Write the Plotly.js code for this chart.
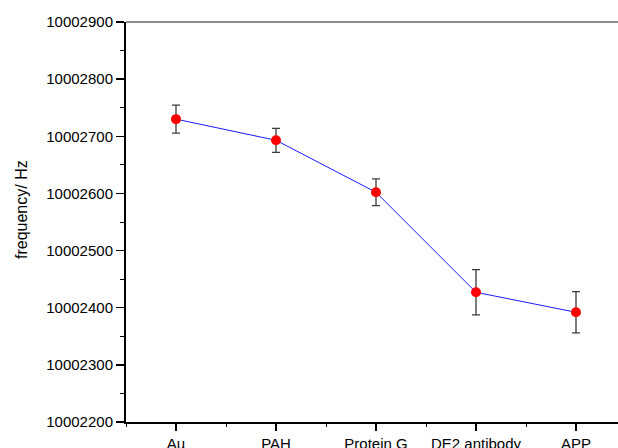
<!DOCTYPE html>
<html>
<head>
<meta charset="utf-8">
<script src="https://cdn.plot.ly/plotly-3.0.1.min.js"></script>
<style>
html,body{margin:0;padding:0;overflow:hidden;background:#fff;}
#chart{width:640px;height:448px;}
</style>
</head>
<body>
<div id="chart"></div>
<script>
const categories = ["Au", "PAH", "Protein G", "DE2 antibody", "APP"];
const frequency = [10002730, 10002693, 10002602, 10002427, 10002392];
const errors = [24.5, 21, 23.5, 39.5, 36];
const yTickVals = [10002200, 10002300, 10002400, 10002500, 10002600, 10002700, 10002800, 10002900];
const yTickText = yTickVals.map(v => String(v));
const xIdx = categories.map((c, i) => i);

const font = "Liberation Sans, Arial, sans-serif";

const trace = {
  x: xIdx,
  y: frequency,
  type: "scatter",
  mode: "lines+markers",
  line: {color: "#1a1aff", width: 1},
  marker: {color: "#ff0000", size: 10},
  error_y: {type: "data", array: errors, visible: true, color: "#3a3a3a", thickness: 1.3, width: 4},
  hoverinfo: "none",
  showlegend: false
};

const layout = {
  width: 640,
  height: 448,
  margin: {l: 126, r: 14, t: 22, b: 26},
  paper_bgcolor: "#ffffff",
  plot_bgcolor: "#ffffff",
  font: {family: font, size: 15, color: "#000"},
  xaxis: {
    range: [-0.5, 4.5],
    tickmode: "array",
    tickvals: xIdx,
    ticktext: categories,
    ticks: "outside",
    ticklen: 7,
    tickwidth: 1.5,
    tickcolor: "#000",
    showline: true,
    linewidth: 2,
    linecolor: "#000",
    showgrid: false,
    zeroline: false,
    tickfont: {family: font, size: 15, color: "#000"},
    minor: {tick0: 0.5, dtick: 1, ticks: "outside", ticklen: 3, tickwidth: 1, tickcolor: "#000", showgrid: false}
  },
  yaxis: {
    range: [10002200, 10002900],
    tickmode: "array",
    tickvals: yTickVals,
    ticktext: yTickText,
    ticks: "outside",
    ticklen: 8,
    tickwidth: 1.5,
    tickcolor: "#000",
    showline: true,
    linewidth: 2,
    linecolor: "#000",
    showgrid: false,
    zeroline: false,
    tickfont: {family: font, size: 15, color: "#000"},
    minor: {tick0: 10002250, dtick: 100, ticks: "outside", ticklen: 4, tickwidth: 1, tickcolor: "#000", showgrid: false}
  },
  shapes: [
    {type: "line", xref: "paper", yref: "paper", x0: 0, x1: 1, y0: 1, y1: 1, line: {color: "#1a1a1a", width: 1}}
  ],
  annotations: [
    {text: "frequency/ Hz", xref: "paper", yref: "paper", x: -0.21, y: 0.53, textangle: -90,
     showarrow: false, font: {family: font, size: 16, color: "#000"}, xanchor: "center", yanchor: "middle"}
  ]
};

Plotly.newPlot("chart", [trace], layout, {staticPlot: true, displayModeBar: false});
</script>
</body>
</html>
